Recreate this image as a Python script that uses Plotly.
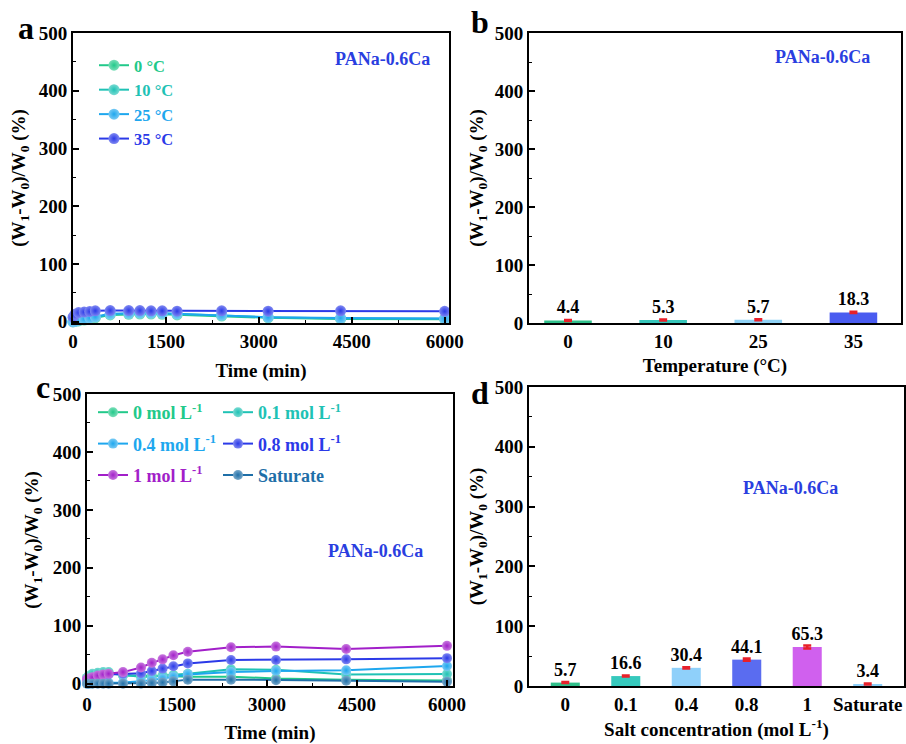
import plotly.graph_objects as go

# ---------------- data ----------------
t_a = [0, 30, 90, 180, 270, 360, 600, 900, 1080, 1260, 1440, 1680, 2400, 3150, 4320, 6000]
temp_names = ["0 °C", "10 °C", "25 °C", "35 °C"]
temp_0 = [0, 0.5, 1.5, 3, 5, 7, 12, 13, 13.5, 13.5, 13, 12, 10, 7, 5, 4.4]
temp_10 = [0, 1, 2, 4, 6, 8, 13, 14, 15, 15, 14.5, 13.5, 11, 8, 6, 5.3]
temp_25 = [0, 1, 3, 5, 7, 9, 14, 15, 15.5, 15.5, 15, 14, 12, 8, 6.5, 5.7]
temp_35 = [8, 13, 16, 17, 18, 19, 19.5, 19.5, 19.5, 19, 19, 18.5, 19, 18.5, 19, 18.3]

t_c = [0, 30, 90, 180, 270, 360, 600, 900, 1080, 1260, 1440, 1680, 2400, 3150, 4320, 6000]
salt_0 = [10, 13, 16, 18, 19, 19, 14, 14, 14, 14, 13, 12, 12, 9, 7, 5.7]
salt_01 = [10, 13, 17, 19, 20, 20, 15, 12, 12, 14, 15, 17, 25, 24, 16, 16.6]
salt_04 = [0, 0, 0.5, 1, 1, 1.5, 2, 4, 6, 9, 12, 16, 20, 22, 23, 30.4]
salt_08 = [7, 8, 10, 13, 15, 16, 17, 18, 22, 26, 30, 35, 41, 41, 42, 44.1]
salt_1 = [8, 9, 11, 14, 16, 17, 20, 28, 36, 42, 49, 55, 63, 64, 60, 65.3]
salt_sat = [0, 0, 0, 0, 0, 0, 0, 0, 1, 2, 4, 7, 7, 6, 5, 3.4]

b_cats = ["0", "10", "25", "35"]
b_vals = [4.4, 5.3, 5.7, 18.3]
b_err = [0.8, 0.8, 0.8, 1.2]

d_cats = ["0", "0.1", "0.4", "0.8", "1", "Saturate"]
d_vals = [5.7, 16.6, 30.4, 44.1, 65.3, 3.4]
d_err = [0.8, 0.9, 1.0, 2.0, 2.5, 0.8]

# ---------------- style ----------------
FONT = "Times New Roman, Liberation Serif, serif"
W, H = 906, 744
C_GREEN = "#22c98a"
C_TEAL = "#1fc2b5"
C_SKY = "#1ea7ee"
C_BLUE = "#2b3ae8"
C_PURPLE = "#a21fc9"
C_STEEL = "#1f6fa8"
LABEL_BLUE = "#2a3ee0"


def lighten(hexc, f):
    h = hexc.lstrip("#")
    r, g, b = int(h[0:2], 16), int(h[2:4], 16), int(h[4:6], 16)
    r = int(r + (255 - r) * f); g = int(g + (255 - g) * f); b = int(b + (255 - b) * f)
    return f"#{r:02x}{g:02x}{b:02x}"


def px_x(p):
    return p / W


def px_y(p):
    return 1 - p / H


fig = go.Figure()


def add_line(x, y, name, color, xa, ya, legend, group, size=11):
    fig.add_trace(go.Scatter(
        x=x, y=y, mode="lines+markers", name=f"<span style='color:{color}'>{name}</span>",
        line=dict(color=color, width=2),
        marker=dict(size=size, color=lighten(color, 0.4), symbol="circle",
                    gradient=dict(type="radial", color=color), line=dict(width=0)),
        xaxis=xa, yaxis=ya, legend=legend, legendgroup=group, cliponaxis=False,
    ))


# panel a
for nm, ys, col in zip(temp_names, [temp_0, temp_10, temp_25, temp_35], [C_GREEN, C_TEAL, C_SKY, C_BLUE]):
    add_line(t_a, ys, nm, col, "x", "y", "legend", None)

# panel c
c_series = [
    ("0 mol L<sup>-1</sup>", salt_0, C_GREEN, "legend2"),
    ("0.1 mol L<sup>-1</sup>", salt_01, C_TEAL, "legend3"),
    ("0.4 mol L<sup>-1</sup>", salt_04, C_SKY, "legend2"),
    ("0.8 mol L<sup>-1</sup>", salt_08, C_BLUE, "legend3"),
    ("1 mol L<sup>-1</sup>", salt_1, C_PURPLE, "legend2"),
    ("Saturate", salt_sat, C_STEEL, "legend3"),
]
for nm, ys, col, lg in c_series:
    add_line(t_c, ys, nm, col, "x3", "y3", lg, "c" + nm, size=10)

barfont = dict(family=FONT, size=18, color="black", weight="bold")

# panel b bars
b_colors = ["#2fbf8a", "#36c6ba", "#8fd2f5", "#4a5cf0"]
fig.add_trace(go.Bar(
    x=b_cats, y=b_vals, marker=dict(color=b_colors, line=dict(width=0)), width=0.5,
    error_y=dict(type="data", array=b_err, color="#e8202a", thickness=2.5, width=4),
    text=[f"{v:.1f}" for v in b_vals], textposition="outside", constraintext="none",
    textfont=barfont, cliponaxis=False, showlegend=False, xaxis="x2", yaxis="y2",
))

# panel d bars
d_colors = ["#2fbf8a", "#36c9bd", "#8fd0fa", "#5a6cf0", "#d060ee", "#8fd0fa"]
fig.add_trace(go.Bar(
    x=d_cats, y=d_vals, marker=dict(color=d_colors, line=dict(width=0)), width=0.48,
    error_y=dict(type="data", array=d_err, color="#e8202a", thickness=2.5, width=4),
    text=[f"{v:.1f}" for v in d_vals], textposition="outside", constraintext="none",
    textfont=barfont, cliponaxis=False, showlegend=False, xaxis="x4", yaxis="y4",
))

tickfont = dict(family=FONT, size=19, color="black", weight="bold")
titlefont = dict(family=FONT, size=19, color="black", weight="bold")
ytitle = "(W<sub>1</sub>-W<sub>0</sub>)/W<sub>0</sub> (%)"

common = dict(showline=True, linecolor="black", linewidth=2, mirror=True, ticks="inside",
              ticklen=6, tickwidth=1.5, tickcolor="black", tickfont=tickfont, showgrid=False,
              zeroline=False)
minor = dict(ticks="inside", ticklen=3, tickwidth=1.2, tickcolor="black", showgrid=False)

# domains (pixel based)
dom_a_x = [px_x(73), px_x(449)]
dom_a_y = [px_y(323), px_y(33)]
dom_b_x = [px_x(529), px_x(901)]
dom_b_y = [px_y(323), px_y(33)]
dom_c_x = [px_x(87), px_x(453)]
dom_c_y = [px_y(686), px_y(394)]
dom_d_x = [px_x(529), px_x(904)]
dom_d_y = [px_y(686), px_y(387)]

yt = [0, 100, 200, 300, 400, 500]
ym = [50, 150, 250, 350, 450]

fig.update_layout(
    width=W, height=H, margin=dict(l=0, r=0, t=0, b=0, autoexpand=False),
    paper_bgcolor="white", plot_bgcolor="white",
    font=dict(family=FONT, color="black"),
    xaxis=dict(domain=dom_a_x, anchor="y", range=[0, 6070], tickvals=[0, 1500, 3000, 4500, 6000],
               minor=dict(tickvals=[750, 2250, 3750, 5250], **minor),
               title=dict(text="Time (min)", font=titlefont, standoff=13), **common),
    yaxis=dict(domain=dom_a_y, anchor="x", range=[-2, 500], tickvals=yt,
               minor=dict(tickvals=ym, **minor),
               title=dict(text=ytitle, font=titlefont, standoff=8), **common),
    xaxis2=dict(domain=dom_b_x, anchor="y2", type="category", range=[-0.41, 3.5],
                title=dict(text="Temperature (°C)", font=titlefont, standoff=8),
                **{**common, "ticks": ""}),
    yaxis2=dict(domain=dom_b_y, anchor="x2", range=[0, 500], tickvals=yt,
                minor=dict(tickvals=ym, **minor),
                title=dict(text=ytitle, font=titlefont, standoff=6), **common),
    xaxis3=dict(domain=dom_c_x, anchor="y3", range=[0, 6100], tickvals=[0, 1500, 3000, 4500, 6000],
                minor=dict(tickvals=[750, 2250, 3750, 5250], **minor),
                title=dict(text="Time (min)", font=titlefont, standoff=16), **common),
    yaxis3=dict(domain=dom_c_y, anchor="x3", range=[-4, 500], tickvals=yt,
                minor=dict(tickvals=ym, **minor),
                title=dict(text=ytitle, font=titlefont, standoff=9), **common),
    xaxis4=dict(domain=dom_d_x, anchor="y4", type="category", range=[-0.6, 5.6],
                title=dict(text="Salt concentration (mol L<sup>-1</sup>)", font=titlefont, standoff=9),
                **{**common, "ticks": ""}),
    yaxis4=dict(domain=dom_d_y, anchor="x4", range=[0, 500], tickvals=yt,
                minor=dict(tickvals=ym, **minor),
                title=dict(text=ytitle, font=titlefont, standoff=6), **common),
    legend=dict(x=px_x(94), y=px_y(48), xanchor="left", yanchor="top", bgcolor="rgba(0,0,0,0)",
                font=dict(family=FONT, size=16.5, weight="bold"), itemwidth=30),
    legend2=dict(x=px_x(93), y=px_y(394), xanchor="left", yanchor="top", bgcolor="rgba(0,0,0,0)",
                 font=dict(family=FONT, size=18, weight="bold"), tracegroupgap=5, itemwidth=30),
    legend3=dict(x=px_x(218), y=px_y(394), xanchor="left", yanchor="top", bgcolor="rgba(0,0,0,0)",
                 font=dict(family=FONT, size=18, weight="bold"), tracegroupgap=5, itemwidth=30),
    showlegend=True,
)

# inset labels
lab = dict(family=FONT, size=18, color=LABEL_BLUE, weight="bold")
for xx, yy in [(382, 59), (822, 57), (375, 551), (790, 488)]:
    fig.add_annotation(text="PANa-0.6Ca", x=px_x(xx), y=px_y(yy), xref="paper", yref="paper",
                       xanchor="center", yanchor="middle", showarrow=False, font=lab)

# panel letters
letf = dict(family=FONT, size=32, color="black", weight="bold")
for letter, xx, yy in [("a", 26, 28), ("b", 480, 22), ("c", 43, 387), ("d", 480, 393)]:
    fig.add_annotation(text=letter, x=px_x(xx), y=px_y(yy), xref="paper", yref="paper",
                       xanchor="center", yanchor="middle", showarrow=False, font=letf)

fig.write_html("out.html")
